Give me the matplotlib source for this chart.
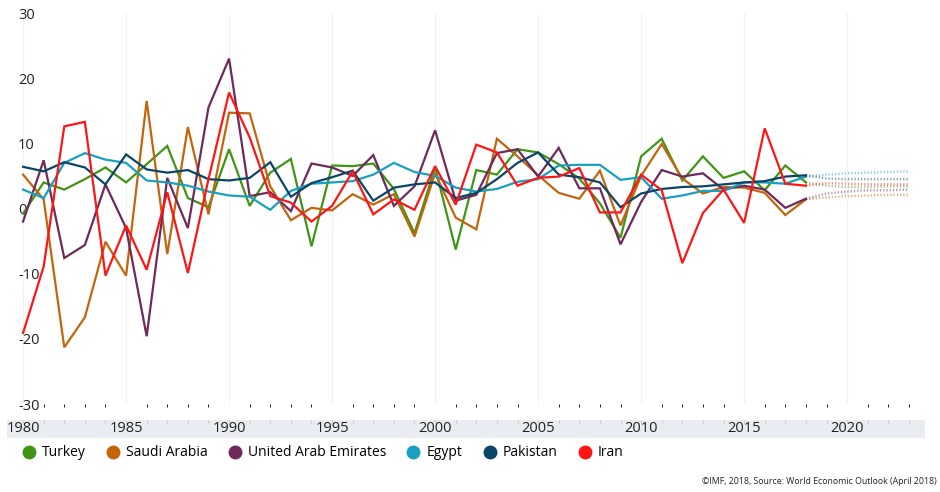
import numpy as np
import matplotlib
matplotlib.use("Agg")
import matplotlib.pyplot as plt
from matplotlib.lines import Line2D

plt.rcParams['font.family'] = ['Open Sans', 'DejaVu Sans']
plt.rcParams['axes.unicode_minus'] = False

# real GDP growth, 1980-2018
years = list(range(1980, 2019))
turkey = [-0.8, 4.0, 2.9, 4.5, 6.3, 4.0, 6.8, 9.6, 1.6, 0.2,
          9.1, 0.4, 5.5, 7.6, -5.8, 6.6, 6.5, 6.9, 3.0, -3.8,
          6.3, -6.3, 5.9, 5.2, 9.1, 8.6, 6.8, 4.6, 0.8, -4.5,
          8.0, 10.7, 4.3, 8.0, 4.7, 5.7, 2.8, 6.6, 4.0]
saudi = [5.2, 1.4, -21.3, -16.7, -5.1, -10.3, 16.5, -7.0, 12.5, -0.9,
         14.7, 14.6, 3.4, -1.8, 0.1, -0.3, 2.2, 0.6, 2.2, -4.3,
         5.4, -1.4, -3.2, 10.7, 8.0, 5.1, 2.4, 1.5, 5.8, -2.6,
         5.0, 9.9, 4.6, 2.3, 3.3, 3.2, 2.4, -1.0, 1.4]
uae = [-2.0, 7.4, -7.6, -5.6, 3.7, -3.0, -19.6, 4.7, -3.0, 15.5,
       23.0, 1.9, 2.5, -0.4, 6.9, 6.3, 5.0, 8.2, 0.4, 3.4,
       12.0, 1.2, 2.1, 8.5, 9.1, 4.9, 9.3, 3.1, 3.1, -5.5,
       1.0, 5.9, 4.9, 5.4, 2.9, 3.5, 2.9, 0.1, 1.5]
egypt = [2.9, 1.6, 7.0, 8.5, 7.5, 7.0, 4.3, 4.0, 3.5, 2.6,
         2.0, 1.8, -0.2, 2.7, 3.8, 4.0, 4.2, 5.2, 7.0, 5.6,
         5.0, 3.2, 2.6, 3.0, 4.1, 4.5, 6.6, 6.7, 6.7, 4.4,
         4.8, 1.5, 2.0, 2.7, 2.7, 4.0, 4.0, 3.8, 4.9]
pakistan = [6.4, 5.7, 7.1, 6.3, 3.7, 8.3, 6.0, 5.5, 5.9, 4.5,
            4.3, 4.7, 7.1, 1.8, 3.9, 4.8, 5.8, 1.2, 3.2, 3.7,
            4.0, 1.6, 2.4, 4.5, 7.0, 8.6, 5.2, 4.8, 4.0, 0.2,
            2.3, 3.0, 3.3, 3.4, 3.7, 4.0, 4.2, 4.9, 5.1]
iran = [-19.1, -8.9, 12.6, 13.3, -10.3, -2.6, -9.4, 2.5, -9.9, 4.5,
        17.8, 10.9, 1.9, 0.9, -2.0, 0.4, 5.7, -0.9, 1.4, -0.2,
        6.5, 0.6, 9.8, 8.6, 3.5, 4.7, 4.9, 6.2, -0.6, -0.6,
        5.2, 2.8, -8.4, -0.7, 2.9, -2.2, 12.3, 3.8, 3.5]

# projections 2018-2023
proj_years = list(range(2018, 2024))
turkey_p = [4.0, 3.5, 3.3, 3.3, 3.4, 3.4]
saudi_p = [1.4, 1.7, 1.9, 2.0, 2.1, 2.1]
uae_p = [1.5, 2.3, 2.6, 2.8, 2.8, 2.9]
egypt_p = [4.9, 5.2, 5.4, 5.5, 5.6, 5.7]
pakistan_p = [5.1, 4.6, 4.5, 4.5, 4.5, 4.5]
iran_p = [3.5, 3.9, 3.8, 3.7, 3.7, 3.7]

names = ['Turkey', 'Saudi Arabia', 'United Arab Emirates', 'Egypt', 'Pakistan', 'Iran']
colors = ['#3f9514', '#c4640c', '#6d2a5a', '#1aa0bf', '#0b4565', '#ff1515']
series = [turkey, saudi, uae, egypt, pakistan, iran]
projections = [turkey_p, saudi_p, uae_p, egypt_p, pakistan_p, iran_p]

W, H = 940, 492
fig = plt.figure(figsize=(W / 100, H / 100), dpi=100)

left, right = 7 / W, 925 / W
ax = fig.add_axes([left, 1 - 404 / H, right - left, (404 - 13) / H])
band = fig.add_axes([left, 1 - 438 / H, right - left, 18 / H], sharex=ax)

for vals, proj, col in zip(series, projections, colors):
    ax.plot(years, vals, color=col, lw=1.6, solid_joinstyle='miter')
    ax.plot(proj_years, proj, color=col, lw=1.8, ls=(0, (0.5, 0.8)), alpha=0.5)

ax.set_xlim(1979.22, 2023.78)
ax.set_ylim(-30, 30)
ax.set_xticks(range(1980, 2021, 5))
ax.grid(axis='x', color='#f2f2f2', lw=0.8)
ax.set_axisbelow(True)
ax.tick_params(axis='x', length=0, labelbottom=False)
ax.set_yticks(range(-30, 31, 10))
ax.tick_params(axis='y', length=0, pad=-8, labelsize=10.5, labelcolor='#222222')
for lab in ax.get_yticklabels():
    lab.set_horizontalalignment('left')
for s in ax.spines.values():
    s.set_visible(False)

# x axis band
band.set_facecolor('#e9edf1')
for s in band.spines.values():
    s.set_visible(False)
band.set_yticks([])
band.set_xticks(range(1980, 2021, 5))
band.set_xticks(range(1980, 2024), minor=True)
band.tick_params(axis='x', which='both', top=True, bottom=False, direction='in',
                 color='#c5cbd2', length=2.2, width=0.8)
band.tick_params(axis='x', which='major', labelbottom=True, pad=-12,
                 labelsize=10.5, labelcolor='#222222')

handles = [Line2D([], [], marker='o', ls='none', color=c, markersize=9) for c in colors]
fig.legend(handles, names, loc='center left', bbox_to_anchor=(23 / W, 1 - 453 / H),
           ncol=6, frameon=False, fontsize=10, handlelength=0.8, handletextpad=0.55,
           columnspacing=1.55, borderpad=0, borderaxespad=0)

fig.text(937 / W, 1 - 481 / H, '©IMF, 2018, Source: World Economic Outlook (April 2018)',
         ha='right', va='center', fontsize=6.3, color='#222222')

fig.savefig('out.png', dpi=100)
